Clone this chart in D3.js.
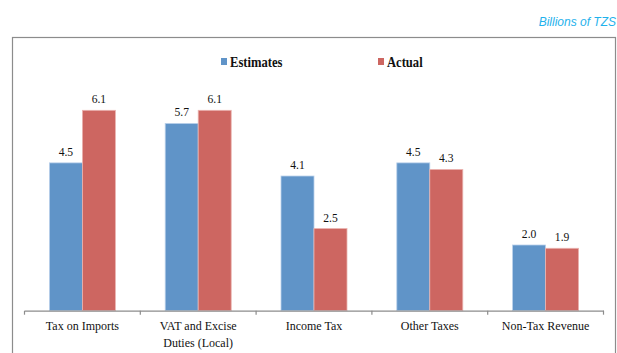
<!DOCTYPE html>
<html>
<head>
<meta charset="utf-8">
<script src="https://cdn.jsdelivr.net/npm/d3@7"></script>
<style>
  html, body { margin: 0; padding: 0; background: #fff; }
  svg { display: block; }
</style>
</head>
<body>
<svg id="chart" width="617" height="353"></svg>
<script>
// Revenue collections by source, billions of TZS
const categories = ["Tax on Imports", "VAT and Excise\nDuties (Local)", "Income Tax", "Other Taxes", "Non-Tax Revenue"];
const seriesNames = ["Estimates", "Actual"];
const estimates = [4.5, 5.7, 4.1, 4.5, 2.0];
const actual = [6.1, 6.1, 2.5, 4.3, 1.9];
const colors = ["#6094c8", "#cd6661"];

const rows = categories.map((c, i) => ({ cat: c, values: [estimates[i], actual[i]] }));

const svg = d3.select("#chart");
const serif = "'Liberation Serif', 'Times New Roman', serif";

// Narrow serif text: placed with a translate and squeezed horizontally
function narrowText(sel, x, y, sx) {
  return sel.attr("transform", d => `translate(${x(d)},${y(d)}) scale(${sx},1)`);
}

// Unit caption
svg.append("text")
  .attr("x", 616).attr("y", 26)
  .attr("text-anchor", "end")
  .style("font-family", "'Liberation Sans', Arial, sans-serif")
  .style("font-style", "italic")
  .style("font-size", "12px")
  .style("fill", "#1fb2ec")
  .text("Billions of TZS");

// Chart frame
svg.append("rect")
  .attr("x", 12.5).attr("y", 37.5)
  .attr("width", 603).attr("height", 330)
  .attr("fill", "none")
  .attr("stroke", "#8c8c8c")
  .attr("stroke-width", 1.2);

// Scales
const x0 = d3.scaleBand().domain(categories).range([24.5, 603.5]).paddingInner(0).paddingOuter(0);
const x1 = d3.scaleBand().domain(seriesNames).range([0, 66]);
const y = d3.scaleLinear().domain([0, 7]).range([310.7, 310.7 - 7 * 32.85]);

const groupOffset = (x0.bandwidth() - 66) / 2;

const groups = svg.append("g").selectAll("g")
  .data(rows).join("g")
  .attr("transform", d => `translate(${x0(d.cat) + groupOffset},0)`);

groups.selectAll("rect")
  .data(d => d.values.map((v, k) => ({ v, k })))
  .join("rect")
  .attr("x", d => x1(seriesNames[d.k]))
  .attr("y", d => y(d.v))
  .attr("width", x1.bandwidth())
  .attr("height", d => y(0) - y(d.v))
  .attr("fill", d => colors[d.k])
  .attr("stroke", d => d.k === 0 ? "#b9d0ea" : "#eab3b0")
  .attr("stroke-width", 0.8);

groups.selectAll("text.val")
  .data(d => d.values.map((v, k) => ({ v, k })))
  .join("text")
  .attr("class", "val")
  .call(narrowText, d => x1(seriesNames[d.k]) + x1.bandwidth() / 2, d => y(d.v) - 7, 0.86)
  .attr("text-anchor", "middle")
  .style("font-family", serif)
  .style("font-size", "13.5px")
  .style("fill", "#111")
  .text(d => d3.format(".1f")(d.v));

// Category axis
const axis = d3.axisBottom(x0).tickSize(0).tickFormat("");
const axisG = svg.append("g").attr("transform", `translate(0,${y(0)})`).call(axis);
axisG.select(".domain").attr("stroke", "#8c8c8c").attr("stroke-width", 1.2);

// Tick marks on category boundaries
const bounds = categories.map(c => x0(c)).concat([x0.range()[1]]);
svg.append("g").selectAll("line")
  .data(bounds).join("line")
  .attr("x1", d => d).attr("x2", d => d)
  .attr("y1", y(0)).attr("y2", y(0) + 4)
  .attr("stroke", "#8c8c8c")
  .attr("stroke-width", 1.2);

// Category labels
svg.append("g").selectAll("text")
  .data(categories).join("text")
  .call(narrowText, d => x0(d) + x0.bandwidth() / 2, () => 330, 0.89)
  .attr("text-anchor", "middle")
  .style("font-family", serif)
  .style("font-size", "13.5px")
  .style("fill", "#111")
  .each(function (d) {
    const lines = d.split("\n");
    d3.select(this).selectAll("tspan")
      .data(lines).join("tspan")
      .attr("x", 0)
      .attr("dy", (l, i) => i === 0 ? 0 : 17)
      .text(l => l);
  });

// Legend
const legendPos = [221, 378];
const legend = svg.append("g").selectAll("g")
  .data(seriesNames).join("g")
  .attr("transform", (d, i) => `translate(${legendPos[i]},58)`);
legend.append("rect")
  .attr("width", 6).attr("height", 7)
  .attr("fill", (d, i) => colors[i]);
legend.append("text")
  .call(narrowText, () => 9, () => 8.5, 0.9)
  .style("font-family", serif)
  .style("font-weight", "bold")
  .style("font-size", "14px")
  .style("fill", "#111")
  .text(d => d);
</script>
</body>
</html>
